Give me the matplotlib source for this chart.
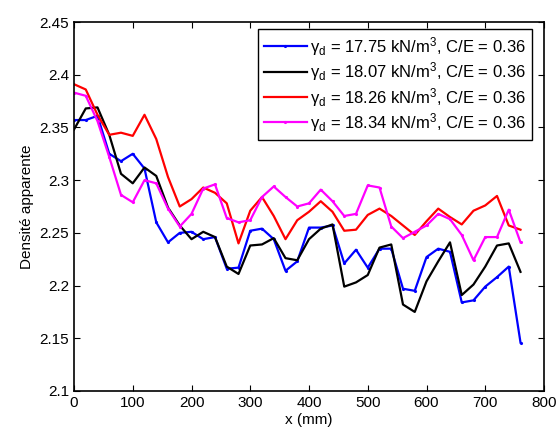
import numpy as np
import matplotlib
matplotlib.use("Agg")
import matplotlib.pyplot as plt
from matplotlib.ticker import FormatStrFormatter, MultipleLocator

plt.rcParams['font.family'] = ['Liberation Sans', 'DejaVu Sans']
plt.rcParams['mathtext.fontset'] = 'custom'
plt.rcParams['mathtext.rm'] = 'Liberation Sans'
plt.rcParams['mathtext.it'] = 'Liberation Sans:italic'

# positions along the sample, mm
x_mm = np.arange(0, 780, 20)

dens_1775 = [2.357, 2.357, 2.361, 2.325, 2.318, 2.325, 2.311, 2.260, 2.241, 2.250,
             2.251, 2.244, 2.246, 2.216, 2.217, 2.252, 2.254, 2.244, 2.214, 2.223,
             2.255, 2.255, 2.257, 2.221, 2.234, 2.217, 2.235, 2.235, 2.197, 2.195,
             2.227, 2.235, 2.232, 2.184, 2.186, 2.199, 2.208, 2.218, 2.146]
dens_1807 = [2.348, 2.368, 2.369, 2.343, 2.306, 2.297, 2.312, 2.304, 2.274, 2.257,
             2.244, 2.251, 2.246, 2.218, 2.211, 2.238, 2.239, 2.245, 2.226, 2.224,
             2.244, 2.254, 2.258, 2.199, 2.203, 2.210, 2.236, 2.239, 2.182, 2.175,
             2.204, 2.223, 2.241, 2.191, 2.201, 2.218, 2.238, 2.240, 2.213]
dens_1826 = [2.391, 2.386, 2.362, 2.343, 2.345, 2.342, 2.362, 2.339, 2.303, 2.275,
             2.282, 2.293, 2.288, 2.278, 2.240, 2.271, 2.284, 2.266, 2.244, 2.262,
             2.270, 2.280, 2.270, 2.252, 2.253, 2.267, 2.273, 2.266, 2.257, 2.248,
             2.261, 2.273, 2.265, 2.258, 2.271, 2.276, 2.285, 2.257, 2.253]
dens_1834 = [2.383, 2.380, 2.356, 2.322, 2.286, 2.279, 2.300, 2.297, 2.273, 2.256,
             2.268, 2.292, 2.296, 2.264, 2.260, 2.262, 2.284, 2.294, 2.284, 2.275,
             2.278, 2.291, 2.280, 2.266, 2.268, 2.295, 2.293, 2.256, 2.245, 2.251,
             2.257, 2.268, 2.263, 2.248, 2.224, 2.246, 2.246, 2.272, 2.241]

labels = [r"γ$_{\rm d}$ = 17.75 kN/m$^3$, C/E = 0.36",
          r"γ$_{\rm d}$ = 18.07 kN/m$^3$, C/E = 0.36",
          r"γ$_{\rm d}$ = 18.26 kN/m$^3$, C/E = 0.36",
          r"γ$_{\rm d}$ = 18.34 kN/m$^3$, C/E = 0.36"]

fig = plt.figure(figsize=(5.59, 4.33), dpi=100)
ax = fig.add_axes([74/559, 1 - 391/433, (544 - 74)/559, (391 - 22)/433])

ax.plot(x_mm, dens_1775, color='#0000ff', lw=1.6, marker='.', ms=2.5, label=labels[0])
ax.plot(x_mm, dens_1807, color='black', lw=1.6, label=labels[1])
ax.plot(x_mm, dens_1826, color='#ff0000', lw=1.6, label=labels[2])
ax.plot(x_mm, dens_1834, color='#ff00ff', lw=1.6, marker='.', ms=2.5, label=labels[3])

ax.set_xlim(0, 800)
ax.set_ylim(2.1, 2.45)
ax.xaxis.set_major_locator(MultipleLocator(100))
ax.yaxis.set_major_locator(MultipleLocator(0.05))
ax.yaxis.set_major_formatter(FormatStrFormatter('%g'))
ax.tick_params(direction='in', top=True, right=True, labelsize=11, length=4)
for s in ax.spines.values():
    s.set_linewidth(1.2)

ax.set_xlabel("x (mm)", fontsize=11, labelpad=2)
ax.set_ylabel("Densité apparente", fontsize=11)

leg = ax.legend(loc='upper right', bbox_to_anchor=(532/559, 1 - 29/433),
                bbox_transform=fig.transFigure, borderaxespad=0, fontsize=12,
                fancybox=False, edgecolor='black', framealpha=1, numpoints=1,
                handlelength=2.6, handletextpad=0.2, labelspacing=0.15, borderpad=0.35)
leg.get_frame().set_linewidth(1.0)

fig.savefig("out.png", dpi=100)
